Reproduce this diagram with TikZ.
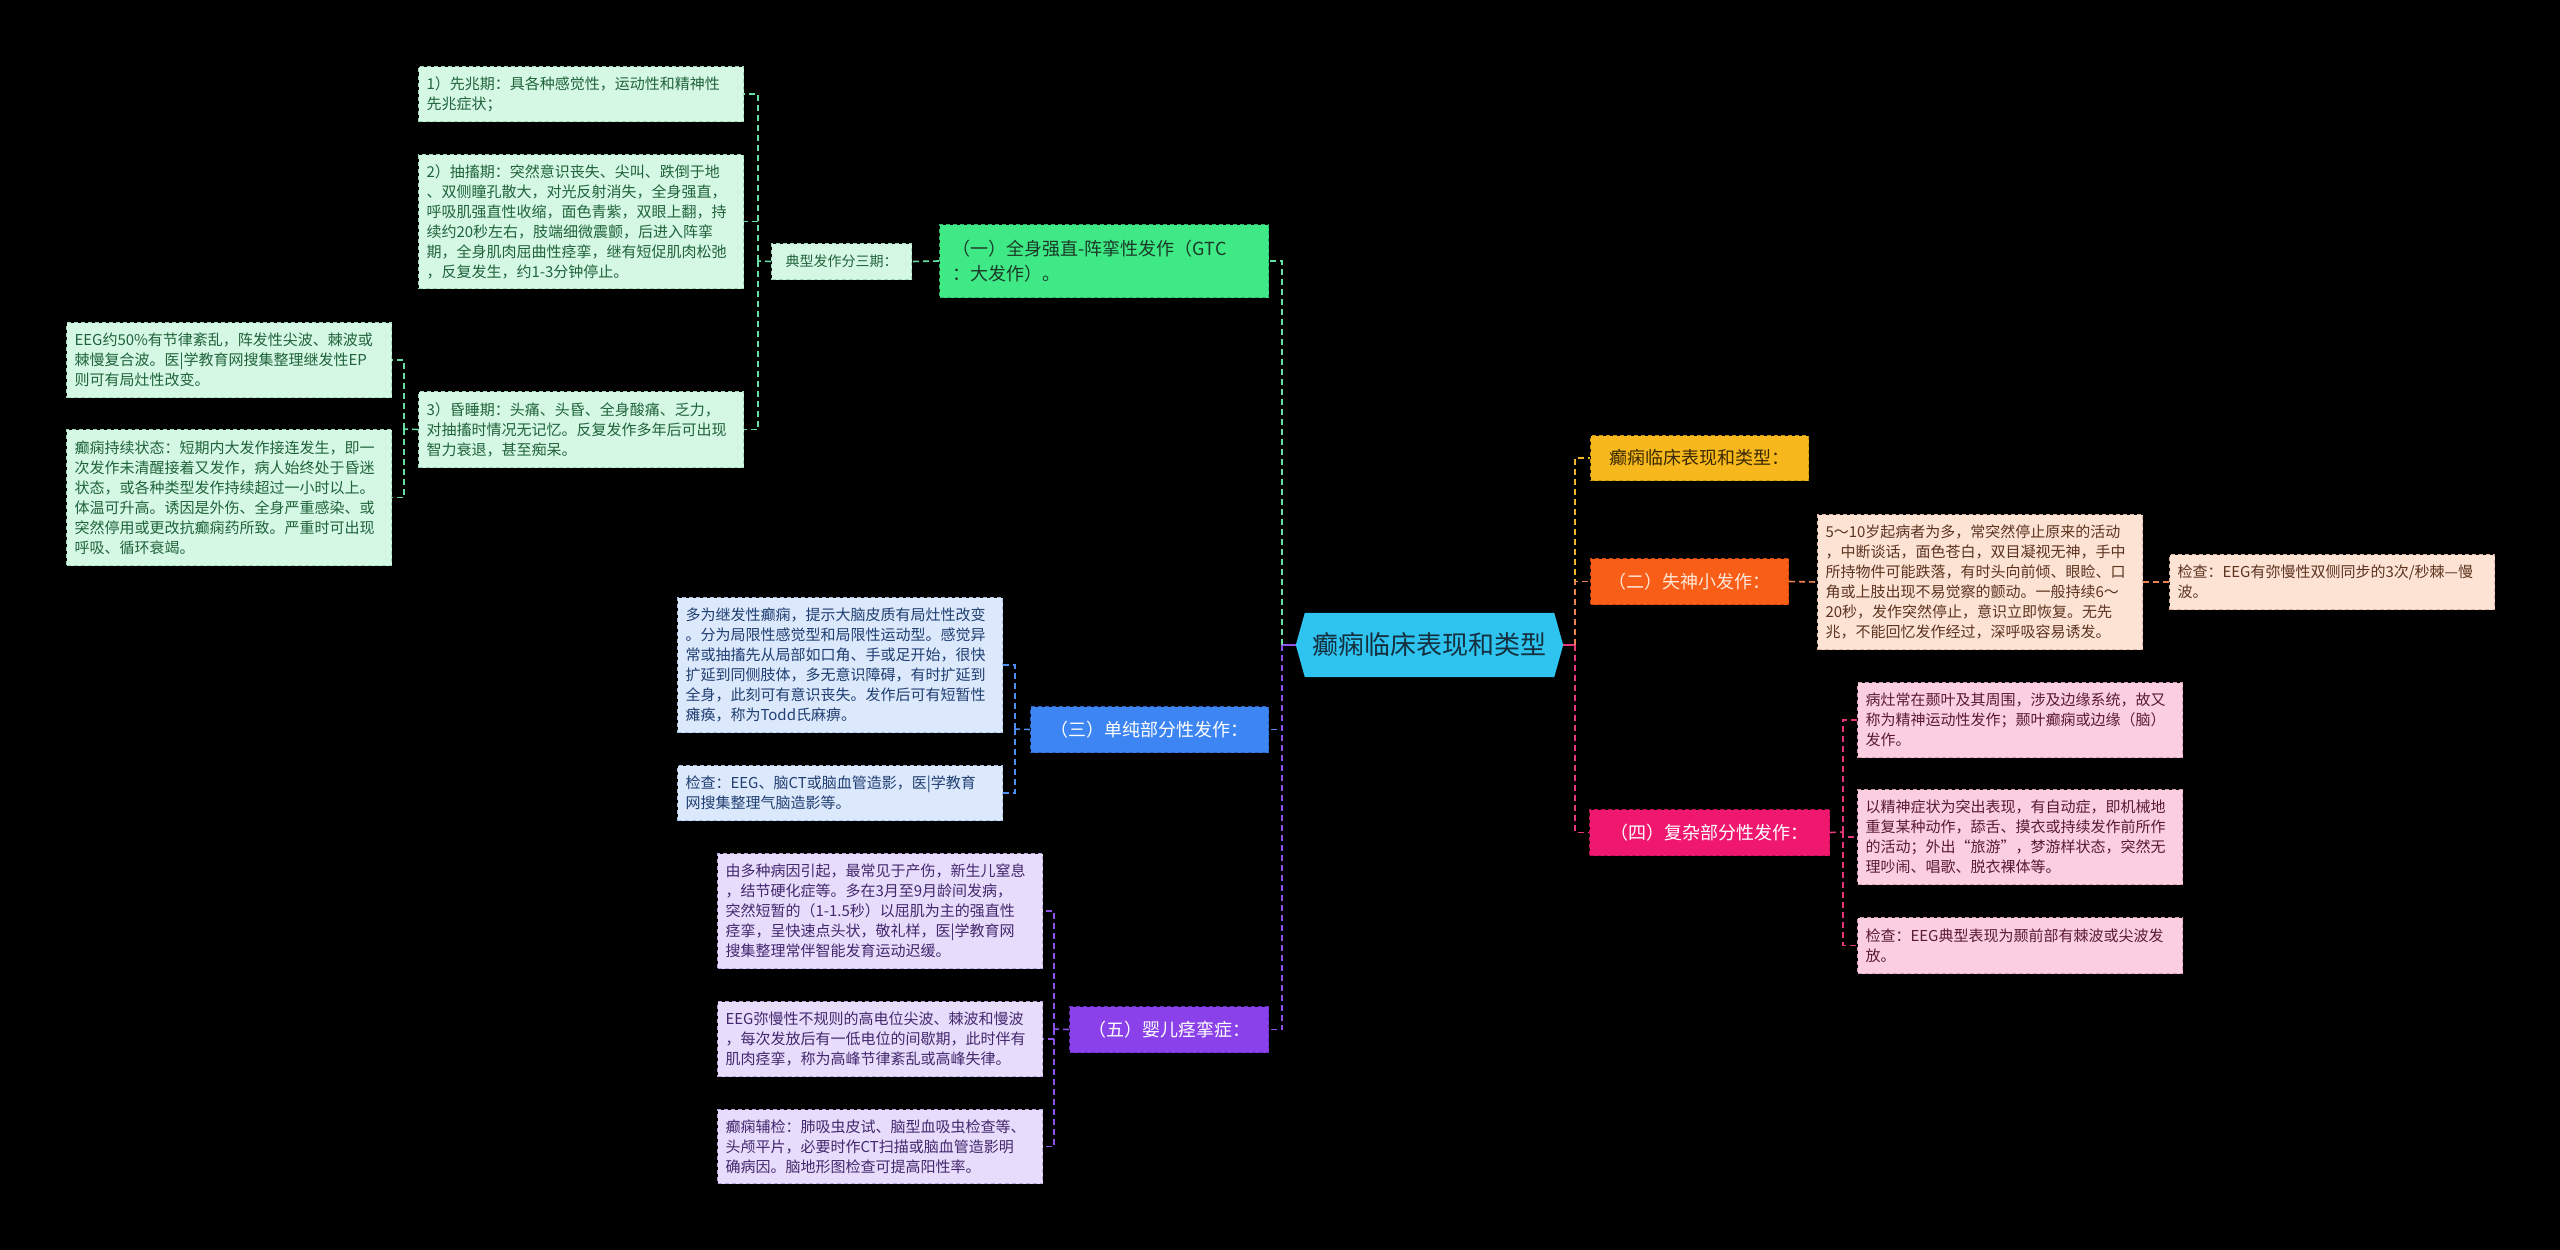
\documentclass[tikz,border=0pt]{standalone}
\usepackage{fontspec}
\setmainfont{Noto Sans CJK SC}
\usetikzlibrary{backgrounds,calc}
\definecolor{bgc}{HTML}{000000}
\definecolor{rootfill}{HTML}{2FC3EF}
\definecolor{roottext}{HTML}{14303F}
% green branch
\definecolor{gtcfill}{HTML}{3FE986}
\definecolor{gtcdraw}{HTML}{2FB86A}
\definecolor{gtctext}{HTML}{1B3A28}
\definecolor{gleaffill}{HTML}{D5F8E4}
\definecolor{gleafdraw}{HTML}{9FD8B5}
\definecolor{gleaftext}{HTML}{20633B}
\definecolor{gline}{HTML}{67DFA0}
% blue branch
\definecolor{blufill}{HTML}{3C85F2}
\definecolor{bludraw}{HTML}{2A66C4}
\definecolor{bleaffill}{HTML}{DCE8FB}
\definecolor{bleafdraw}{HTML}{A6BFE6}
\definecolor{bleaftext}{HTML}{1F3F72}
\definecolor{bline}{HTML}{4E8EF2}
% purple branch
\definecolor{purfill}{HTML}{8B41EA}
\definecolor{purdraw}{HTML}{6A2FC0}
\definecolor{uleaffill}{HTML}{E7DCFB}
\definecolor{uleafdraw}{HTML}{B9A4DE}
\definecolor{uleaftext}{HTML}{43286E}
\definecolor{uline}{HTML}{8E52EE}
% amber
\definecolor{ambfill}{HTML}{F6B81C}
\definecolor{ambdraw}{HTML}{C99410}
\definecolor{ambtext}{HTML}{3B2900}
\definecolor{aline}{HTML}{F0B52A}
% orange
\definecolor{orafill}{HTML}{F85E18}
\definecolor{oradraw}{HTML}{C8460E}
\definecolor{oratext}{HTML}{FFE8D8}
\definecolor{pleaffill}{HTML}{FDE3D4}
\definecolor{pleafdraw}{HTML}{DCB49C}
\definecolor{pleaftext}{HTML}{5C3420}
\definecolor{oline}{HTML}{EE8152}
% pink
\definecolor{pnkfill}{HTML}{F0176F}
\definecolor{pnkdraw}{HTML}{BF0F56}
\definecolor{kleaffill}{HTML}{FBCFE0}
\definecolor{kleafdraw}{HTML}{D89AB3}
\definecolor{kleaftext}{HTML}{5A1A36}
\definecolor{kline}{HTML}{E8367D}

\tikzset{
  leafbase/.style={rectangle, anchor=north west, line width=1pt,
    dash pattern=on 4pt off 3pt, inner xsep=8pt, inner ysep=2pt,
    align=left, text width=309pt, font=\fontsize{15}{20}\selectfont},
  gleaf/.style={leafbase, fill=gleaffill, draw=gleafdraw, text=gleaftext},
  bleaf/.style={leafbase, fill=bleaffill, draw=bleafdraw, text=bleaftext},
  uleaf/.style={leafbase, fill=uleaffill, draw=uleafdraw, text=uleaftext},
  pleaf/.style={leafbase, fill=pleaffill, draw=pleafdraw, text=pleaftext},
  kleaf/.style={leafbase, fill=kleaffill, draw=kleafdraw, text=kleaftext},
  lone/.style={rectangle, anchor=north west, inner sep=0pt, align=center,
    line width=1pt, dash pattern=on 4pt off 3pt,
    font=\fontsize{18}{24}\selectfont},
  conn/.style={line width=1.6pt, dash pattern=on 6pt off 4pt},
  rootn/.style={rectangle, inner sep=0pt, minimum width=267pt,
    minimum height=64pt, text=roottext, font=\fontsize{26}{30}\selectfont}
}

\begin{document}
\begin{tikzpicture}[x=1pt,y=-1pt]
\useasboundingbox (0,0) rectangle (2560,1250);

% ---------- root ----------
\node[rootn] (root) at (1429.5,645) {癫痫临床表现和类型};

% ---------- left: GTC ----------
\node[lone, fill=gtcfill, draw=gtcdraw, text=gtctext, text width=303pt,
      inner xsep=13pt, align=left, minimum height=73pt,
      font=\fontsize{18}{25}\selectfont] (gtc) at (939,224)
  {（一）全身强直-阵挛性发作（GTC\\：大发作）。};
\node[lone, fill=gleaffill, draw=gleafdraw, text=gleaftext, minimum width=140pt,
      minimum height=36pt, font=\fontsize{14}{18}\selectfont] (typ) at (771,243)
  {典型发作分三期：};

\node[gleaf, minimum height=55pt] (g1) at (418,66)
  {1）先兆期：具各种感觉性，运动性和精神性\\先兆症状；};
\node[gleaf, minimum height=134pt] (g2) at (418,154)
  {2）抽搐期：突然意识丧失、尖叫、跌倒于地\\、双侧瞳孔散大，对光反射消失，全身强直，\\呼吸肌强直性收缩，面色青紫，双眼上翻，持\\续约20秒左右，肢端细微震颤，后进入阵挛\\期，全身肌肉屈曲性痉挛，继有短促肌肉松弛\\，反复发生，约1-3分钟停止。};
\node[gleaf, minimum height=76pt] (g3) at (418,391)
  {3）昏睡期：头痛、头昏、全身酸痛、乏力，\\对抽搐时情况无记忆。反复发作多年后可出现\\智力衰退，甚至痴呆。};
\node[gleaf, minimum height=75pt] (fa) at (66,322)
  {EEG约50\%有节律紊乱，阵发性尖波、棘波或\\棘慢复合波。医|学教育网搜集整理继发性EP\\则可有局灶性改变。};
\node[gleaf, minimum height=136pt] (fb) at (66,429)
  {癫痫持续状态：短期内大发作接连发生，即一\\次发作未清醒接着又发作，病人始终处于昏迷\\状态，或各种类型发作持续超过一小时以上。\\体温可升高。诱因是外伤、全身严重感染、或\\突然停用或更改抗癫痫药所致。严重时可出现\\呼吸、循环衰竭。};

% ---------- left: simple partial ----------
\node[lone, fill=blufill, draw=bludraw, text=white, minimum width=238pt,
      minimum height=46pt] (blu) at (1030,706) {（三）单纯部分性发作：};
\node[bleaf, minimum height=135pt] (b1) at (677,597)
  {多为继发性癫痫，提示大脑皮质有局灶性改变\\。分为局限性感觉型和局限性运动型。感觉异\\常或抽搐先从局部如口角、手或足开始，很快\\扩延到同侧肢体，多无意识障碍，有时扩延到\\全身，此刻可有意识丧失。发作后可有短暂性\\瘫痪，称为Todd氏麻痹。};
\node[bleaf, minimum height=55pt] (b2) at (677,765)
  {检查：EEG、脑CT或脑血管造影，医|学教育\\网搜集整理气脑造影等。};

% ---------- left: infantile spasm ----------
\node[lone, fill=purfill, draw=purdraw, text=white, minimum width=199pt,
      minimum height=46pt] (pur) at (1069,1006) {（五）婴儿痉挛症：};
\node[uleaf, minimum height=115pt] (u1) at (717,853)
  {由多种病因引起，最常见于产伤，新生儿窒息\\，结节硬化症等。多在3月至9月龄间发病，\\突然短暂的（1-1.5秒）以屈肌为主的强直性\\痉挛，呈快速点头状，敬礼样，医|学教育网\\搜集整理常伴智能发育运动迟缓。};
\node[uleaf, minimum height=75pt] (u2) at (717,1001)
  {EEG弥慢性不规则的高电位尖波、棘波和慢波\\，每次发放后有一低电位的间歇期，此时伴有\\肌肉痉挛，称为高峰节律紊乱或高峰失律。};
\node[uleaf, minimum height=74pt] (u3) at (717,1109)
  {癫痫辅检：肺吸虫皮试、脑型血吸虫检查等、\\头颅平片，必要时作CT扫描或脑血管造影明\\确病因。脑地形图检查可提高阳性率。};

% ---------- right ----------
\node[lone, fill=ambfill, draw=ambdraw, text=ambtext, minimum width=218pt,
      minimum height=45pt] (amb) at (1590,435) {癫痫临床表现和类型：};
\node[lone, fill=orafill, draw=oradraw, text=oratext, minimum width=198pt,
      minimum height=46pt] (ora) at (1590,558) {（二）失神小发作：};
\node[pleaf, minimum height=135pt] (p1) at (1817,514)
  {5～10岁起病者为多，常突然停止原来的活动\\，中断谈话，面色苍白，双目凝视无神，手中\\所持物件可能跌落，有时头向前倾、眼睑、口\\角或上肢出现不易觉察的颤动。一般持续6～\\20秒，发作突然停止，意识立即恢复。无先\\兆，不能回忆发作经过，深呼吸容易诱发。};
\node[pleaf, minimum height=55pt] (p2) at (2169,554)
  {检查：EEG有弥慢性双侧同步的3次/秒棘—慢\\波。};
\node[lone, fill=pnkfill, draw=pnkdraw, text=white, minimum width=240pt,
      minimum height=46pt] (pnk) at (1589,809) {（四）复杂部分性发作：};
\node[kleaf, minimum height=75pt] (k1) at (1857,682)
  {病灶常在颞叶及其周围，涉及边缘系统，故又\\称为精神运动性发作；颞叶癫痫或边缘（脑）\\发作。};
\node[kleaf, minimum height=95pt] (k2) at (1857,789)
  {以精神症状为突出表现，有自动症，即机械地\\重复某种动作，舔舌、摸衣或持续发作前所作\\的活动；外出“旅游”，梦游样状态，突然无\\理吵闹、唱歌、脱衣裸体等。};
\node[kleaf, minimum height=56pt] (k3) at (1857,917)
  {检查：EEG典型表现为颞前部有棘波或尖波发\\放。};

% ---------- background + root hexagon ----------
\begin{scope}[on background layer]
  \fill[bgc] (0,0) rectangle (2560,1250);
  \fill[rootfill] (root.west) -- ([xshift=9pt]root.north west)
     -- ([xshift=-9pt]root.north east) -- (root.east)
     -- ([xshift=-9pt]root.south east) -- ([xshift=9pt]root.south west) -- cycle;
\end{scope}

% ---------- trunk coordinates ----------
\coordinate (tl) at (1282,645);
\coordinate (tr) at (1575,645);
\coordinate (tg) at (758,261);
\coordinate (tf) at (404,429);
\coordinate (tb) at (1015,729);
\coordinate (tu) at (1054,1029);
\coordinate (tk) at (1843,832);

% root links
\draw[line width=1.6pt, uline] (root.west) -- (tl);
\draw[line width=1.6pt, kline] (root.east) -- (tr);

% left main branches
\draw[conn, bline] (tl) |- (blu.east);
\draw[conn, uline] (tl) |- (pur.east);
\draw[conn, gline] (tl) |- (gtc.east);

% GTC sub
\draw[conn, gline] (gtc.west) -- (typ.east);
\draw[conn, gline] (typ.west) -- (tg);
\draw[conn, gline] (tg) |- (g1.east);
\draw[conn, gline] (tg) |- (g2.east);
\draw[conn, gline] (tg) |- (g3.east);
\draw[conn, gline] (g3.west) -- (tf);
\draw[conn, gline] (tf) |- (fa.east);
\draw[conn, gline] (tf) |- (fb.east);

% simple partial sub
\draw[conn, bline] (blu.west) -- (tb);
\draw[conn, bline] (tb) |- (b1.east);
\draw[conn, bline] (tb) |- (b2.east);

% infantile spasm sub
\draw[conn, uline] (pur.west) -- (tu);
\draw[conn, uline] (tu) |- (u1.east);
\draw[conn, uline] (tu) |- (u2.east);
\draw[conn, uline] (tu) |- (u3.east);

% right main branches
\draw[conn, aline] (tr) |- (amb.west);
\draw[conn, oline] (tr) |- (ora.west);
\draw[conn, kline] (tr) |- (pnk.west);

% absence sub
\draw[conn, oline] (ora.east) -- (p1.west);
\draw[conn, oline] (p1.east) -- (p2.west);

% complex partial sub
\draw[conn, kline] (pnk.east) -- (tk);
\draw[conn, kline] (tk) |- (k1.west);
\draw[conn, kline] (tk) |- (k2.west);
\draw[conn, kline] (tk) |- (k3.west);
\end{tikzpicture}
\end{document}
